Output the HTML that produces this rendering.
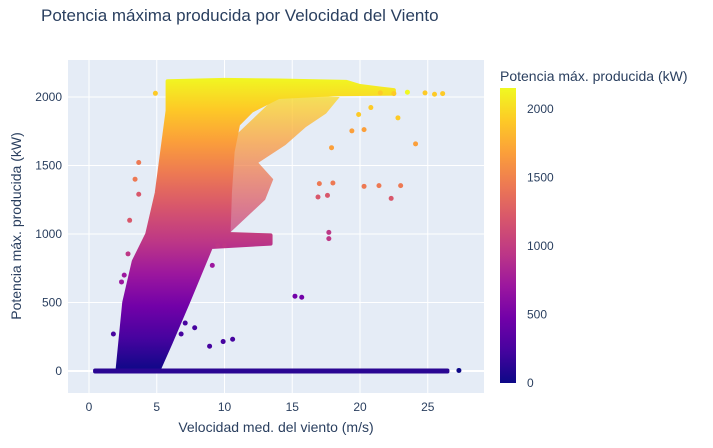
<!DOCTYPE html>
<html><head><meta charset="utf-8"><style>
body{margin:0;background:#fff;font-family:"Liberation Sans",sans-serif}
svg text{font-family:"Liberation Sans",sans-serif;fill:#2a3f5f}
</style></head><body>
<svg id="chart" width="713" height="443">
<defs>
<linearGradient id="plasma" gradientUnits="userSpaceOnUse" x1="0" y1="383" x2="0" y2="88">
<stop offset="0" stop-color="#0d0887"/><stop offset="0.11" stop-color="#46039f"/><stop offset="0.22" stop-color="#7201a8"/><stop offset="0.33" stop-color="#9c179e"/><stop offset="0.44" stop-color="#bd3786"/><stop offset="0.56" stop-color="#d8576b"/><stop offset="0.67" stop-color="#ed7953"/><stop offset="0.78" stop-color="#fb9f3a"/><stop offset="0.89" stop-color="#fdca26"/><stop offset="1" stop-color="#f0f921"/>
</linearGradient>
<linearGradient id="plasmaPlot" gradientUnits="userSpaceOnUse" x1="0" y1="371" x2="0" y2="76.5">
<stop offset="0" stop-color="#0d0887"/><stop offset="0.11" stop-color="#46039f"/><stop offset="0.22" stop-color="#7201a8"/><stop offset="0.33" stop-color="#9c179e"/><stop offset="0.44" stop-color="#bd3786"/><stop offset="0.56" stop-color="#d8576b"/><stop offset="0.67" stop-color="#ed7953"/><stop offset="0.78" stop-color="#fb9f3a"/><stop offset="0.89" stop-color="#fdca26"/><stop offset="1" stop-color="#f0f921"/>
</linearGradient>
<clipPath id="clip"><rect x="68" y="60" width="416" height="333"/></clipPath>
</defs>
<text x="41" y="21" font-size="17">Potencia máxima producida por Velocidad del Viento</text>
<rect x="68" y="60" width="416" height="333" fill="#e5ecf6"/>
<g id="grid"></g>
<g id="marks" clip-path="url(#clip)"></g>
<g id="xticks"></g><g id="yticks"></g>
<text x="276" y="432" font-size="14" text-anchor="middle">Velocidad med. del viento (m/s)</text>
<text x="21" y="226" font-size="14" text-anchor="middle" transform="rotate(-90 21 226)">Potencia máx. producida (kW)</text>
<text x="500" y="81" font-size="14">Potencia máx. producida (kW)</text>
<rect x="500" y="88" width="16" height="295" fill="url(#plasma)"/>
<g id="cbticks"></g>
</svg>
<script>
const xTicks=[0,5,10,15,20,25];
const yTicks=[0,500,1000,1500,2000];
const cbTicks=[0,500,1000,1500,2000];
// main envelope of dense scatter (wind speed, power)
const envSpeed=[2.1,2.3,2.6,3.3,4.3,5.0,5.4,5.8,5.8,10,14,19,20,22.5,22.5,18,14,12,11,10.6,10.4,10.3,13.4,13.4,9.0,7.3,6.0,5.1];
const envPower=[0,200,500,800,1000,1300,1600,1900,2115,2125,2120,2110,2080,2050,2025,2020,2000,1900,1800,1600,1300,1000,990,930,905,500,200,0];
// sparse region
const sparseSpeed=[10.3,13,13.6,12.5,14.5,16,17.5,18.5,14,10.6];
const sparsePower=[1000,1250,1400,1520,1650,1780,1880,2000,2020,1700];
// zero-power band
const zeroSpeed=[0.3,26.6];
const zeroPower=[-18,18];
// outliers
const outSpeed=[4.9,3.67,3.67,2.88,7.8,10.6,15.2,15.7,8.9,9.9,20.3,21.4,23.0,22.3,24.1,22.8,20.8,26.1,25.5,24.8,17.7,17.7,17.9,19.9,9.5,10.0,9.1,7.1,6.8,2.4,1.8,17.0,18.0,16.9,17.6,19.4,20.3,27.3,3.4,3.0,2.6,21.5,22.5,23.5];
const outPower=[2027,1522,1290,855,316,232,546,538,181,215,1348,1353,1353,1260,1658,1848,1923,2025,2020,2030,1012,966,1630,1872,917,917,771,350,270,650,270,1368,1372,1270,1282,1753,1762,4,1400,1100,700,2030,2025,2035];
const xs=v=>89+v*13.55, ys=v=>371-v*0.137;
const cs=v=>383-v*0.13695;
const NS='http://www.w3.org/2000/svg';
function mk(t,a,p){const e=document.createElementNS(NS,t);for(const k in a)e.setAttribute(k,a[k]);document.getElementById(p).appendChild(e);return e;}
function plasma(v){const st=['#0d0887','#46039f','#7201a8','#9c179e','#bd3786','#d8576b','#ed7953','#fb9f3a','#fdca26','#f0f921'];let t=Math.max(0,Math.min(1,v/2150))*9;return st[Math.round(t)];}
xTicks.forEach(t=>{const l=mk('line',{x1:xs(t),x2:xs(t),y1:60,y2:393,stroke:'#fff','stroke-width':1},'grid');


const tx=mk('text',{x:xs(t),y:411,'font-size':12,'text-anchor':'middle'},'xticks');tx.textContent=t;

});
yTicks.forEach(t=>{const l=mk('line',{x1:68,x2:484,y1:ys(t),y2:ys(t),stroke:'#fff','stroke-width':t===0?2:1},'grid');


const tx=mk('text',{x:62,y:ys(t)+4,'font-size':12,'text-anchor':'end'},'yticks');tx.textContent=t;

});
cbTicks.forEach(t=>{const tx=mk('text',{x:527,y:cs(t)+4,'font-size':12},'cbticks');tx.textContent=t;

});
const sp=mk('polygon',{points:sparseSpeed.map((s,i)=>xs(s)+','+ys(sparsePower[i])).join(' '),fill:'url(#plasmaPlot)',opacity:0.75},'marks');


const mp=mk('polygon',{points:envSpeed.map((s,i)=>xs(s)+','+ys(envPower[i])).join(' '),fill:'url(#plasmaPlot)',stroke:'url(#plasmaPlot)','stroke-width':4,'stroke-linejoin':'round'},'marks');


const zb=mk('rect',{x:xs(zeroSpeed[0]),y:ys(zeroPower[1]),width:xs(zeroSpeed[1])-xs(zeroSpeed[0]),height:ys(zeroPower[0])-ys(zeroPower[1]),fill:'#2a0693',rx:2},'marks');


outSpeed.forEach((s,i)=>{const c=mk('circle',{cx:xs(s),cy:ys(outPower[i]),r:2.5,fill:plasma(outPower[i])},'marks');

});
</script>
</body></html>
